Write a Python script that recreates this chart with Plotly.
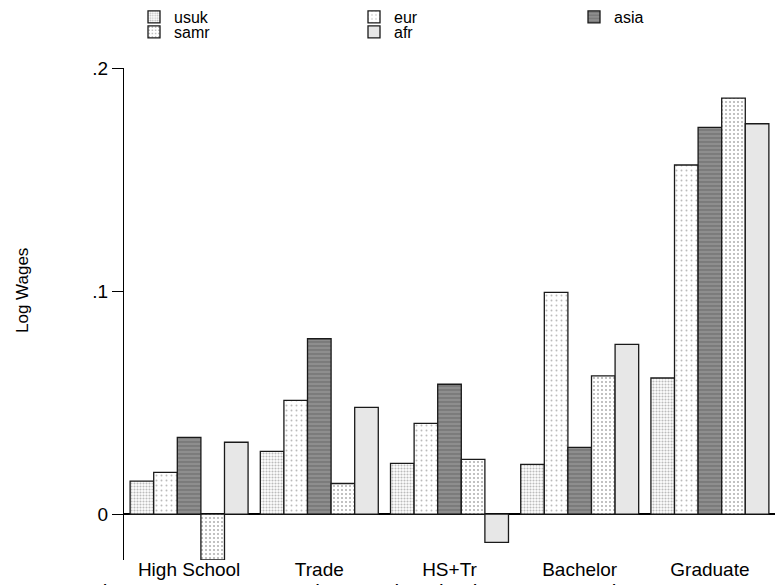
import plotly.graph_objects as go

# Education categories and source regions
categories = ["High School", "Trade", "HS+Tr", "Bachelor", "Graduate"]
regions = ["usuk", "eur", "asia", "samr", "afr"]

# Log-wage effects by region for each education level
usuk = [0.0148, 0.0281, 0.0227, 0.0223, 0.0610]
eur = [0.0187, 0.0510, 0.0407, 0.0994, 0.1565]
asia = [0.0344, 0.0786, 0.0582, 0.0299, 0.1734]
samr = [-0.0206, 0.0137, 0.0245, 0.0620, 0.1865]
afr = [0.0322, 0.0478, -0.0127, 0.0761, 0.1750]

y_tick_vals = [0, 0.1, 0.2]
y_tick_text = ["0", ".1", ".2"]

values = {"usuk": usuk, "eur": eur, "asia": asia, "samr": samr, "afr": afr}

FONT = "Liberation Sans, Arial, sans-serif"
W, H = 775, 585
ML, MR, MT, MB = 124, 0, 68, 25
PW, PH = W - ML - MR, H - MT - MB


def px_x(px):
    return (px - ML) / PW


def px_y(py):
    return (H - MB - py) / PH


# Monochrome fill patterns, one per region
patterns = {
    "usuk": dict(shape=".", bgcolor="#ffffff", fgcolor="#7a7a7a", size=3, solidity=0.4),
    "eur":  dict(shape=".", bgcolor="#ffffff", fgcolor="#777777", size=5, solidity=0.12),
    "asia": dict(shape="-", bgcolor="#8e8e8e", fgcolor="#4e4e4e", size=4, solidity=0.3),
    "samr": dict(shape=".", bgcolor="#ffffff", fgcolor="#666666", size=4, solidity=0.22),
    "afr":  dict(shape=".", bgcolor="#ffffff", fgcolor="#8f8f8f", size=2, solidity=0.5),
}

# Legend key positions (pixels): swatch left x, row centre y
legend_pos = {
    "usuk": (148, 13), "eur": (368, 13), "asia": (588, 13),
    "samr": (148, 28), "afr": (368, 28),
}
legend_ids = ["legend", "legend2", "legend3", "legend4", "legend5"]

fig = go.Figure()
for name, lid in zip(regions, legend_ids):
    p = patterns[name]
    fig.add_trace(go.Bar(
        x=categories, y=values[name], name=name, legend=lid,
        marker=dict(color=p["bgcolor"], pattern=p,
                    line=dict(color="#1a1a1a", width=1.3)),
    ))

layout_legends = {}
for name, lid in zip(regions, legend_ids):
    sx, cy = legend_pos[name]
    layout_legends[lid] = dict(
        xref="container", yref="container",
        x=(sx - 14) / W, xanchor="left",
        y=1 - (cy - 13) / H, yanchor="top",
        bgcolor="rgba(0,0,0,0)", borderwidth=0,
        font=dict(family=FONT, size=16, color="black"),
        itemclick=False, itemdoubleclick=False,
    )

fig.update_layout(
    width=W, height=H,
    margin=dict(l=ML, r=MR, t=MT, b=MB, autoexpand=False),
    paper_bgcolor="white", plot_bgcolor="white",
    barmode="group", bargap=0.094, bargroupgap=0,
    font=dict(family=FONT, color="black"),
    showlegend=True,
    **layout_legends,
    xaxis=dict(
        range=[-0.5, 4.5], showgrid=False, showline=False, zeroline=False,
        ticks="", tickangle=0, automargin=False, ticklabelstandoff=-4,
        tickfont=dict(family=FONT, size=19, color="black"),
        fixedrange=True,
    ),
    yaxis=dict(
        range=[-0.0206, 0.2], showgrid=False, automargin=False,
        showline=True, linecolor="black", linewidth=1.2,
        zeroline=True, zerolinecolor="black", zerolinewidth=1.5,
        ticks="outside", ticklen=11, tickwidth=1.2, tickcolor="black",
        tickvals=y_tick_vals, ticktext=y_tick_text,
        tickfont=dict(family=FONT, size=19, color="black"),
        fixedrange=True,
    ),
    annotations=[
        dict(text="Log Wages", textangle=-90, showarrow=False,
             xref="paper", yref="paper", x=px_x(22), y=px_y(291),
             xanchor="center", yanchor="middle",
             font=dict(family=FONT, size=17, color="black")),
        dict(text="Fig 21.1 Returns to Immigrant Education by Source Region",
             showarrow=False, xref="paper", yref="paper",
             x=px_x(88), y=px_y(578), xanchor="left", yanchor="top",
             font=dict(family=FONT, size=21, color="black")),
    ],
)

fig.write_html("out.html")
